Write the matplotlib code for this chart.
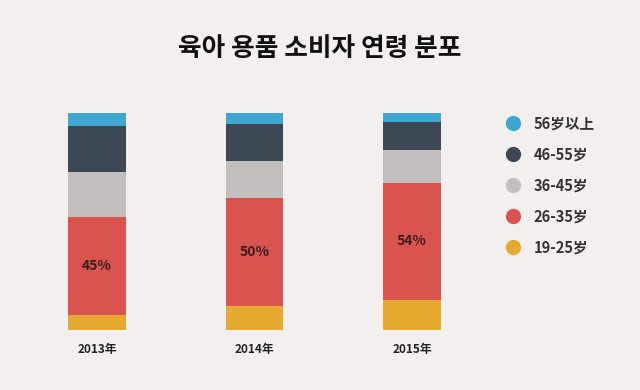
import matplotlib
matplotlib.use("Agg")
import matplotlib.pyplot as plt
from matplotlib.lines import Line2D

plt.rcParams['font.family'] = ['Noto Sans CJK KR', 'DejaVu Sans']

years = ["2013年", "2014年", "2015年"]
groups = ["19-25岁", "26-35岁", "36-45岁", "46-55岁", "56岁以上"]
v_19_25 = [7, 11, 14]
v_26_35 = [45, 50, 54]
v_36_45 = [21, 17, 15]
v_46_55 = [21, 17, 13]
v_56up = [6, 5, 4]
series = [v_19_25, v_26_35, v_36_45, v_46_55, v_56up]
colors = ["#e6aa33", "#d9534f", "#c3bebe", "#3c4955", "#3fa6d2"]
bg = "#f3efee"

fig = plt.figure(figsize=(6.4, 3.9), dpi=100, facecolor=bg)
ax = fig.add_axes([0, 60/390, 1, 216.7/390])
ax.set_facecolor(bg)

x = list(range(len(years)))
bottom = [0, 0, 0]
for vals, c in zip(series, colors):
    ax.bar(x, vals, width=0.362, bottom=bottom, color=c, edgecolor='none')
    if vals is v_26_35:
        for xi, b, v in zip(x, bottom, vals):
            ax.text(xi, b + v / 2, f"{v}%", ha='center', va='center',
                    fontsize=10, fontweight='bold', color='#3a1d1d')
    bottom = [b + v for b, v in zip(bottom, vals)]

ax.set_xlim(-97/157.5, (640-97)/157.5)
ax.set_ylim(0, 100)
ax.set_xticks(x)
ax.set_xticklabels(years, fontsize=8.5, fontweight='bold', color='#222222')
ax.tick_params(axis='x', length=0, pad=9.5)
ax.set_yticks([])
for s in ax.spines.values():
    s.set_visible(False)

handles = [Line2D([0], [0], marker='o', linestyle='none', markersize=11,
                  markerfacecolor=c, markeredgecolor='none')
           for c in colors[::-1]]
leg = fig.legend(handles, groups[::-1], loc='upper left',
                 bbox_to_anchor=(492/640, 1 - 102/390), frameon=False,
                 fontsize=10.5, labelspacing=1.03, handletextpad=0.85,
                 handlelength=1.1)
for t in leg.get_texts():
    t.set_fontweight('bold')
    t.set_color('#333333')

fig.text(0.5, 1 - 48/390, "육아 용품 소비자 연령 분포", ha='center', va='center',
         fontsize=18.5, fontweight='bold', color='#111111')

fig.savefig("out.png", dpi=100, facecolor=bg)
